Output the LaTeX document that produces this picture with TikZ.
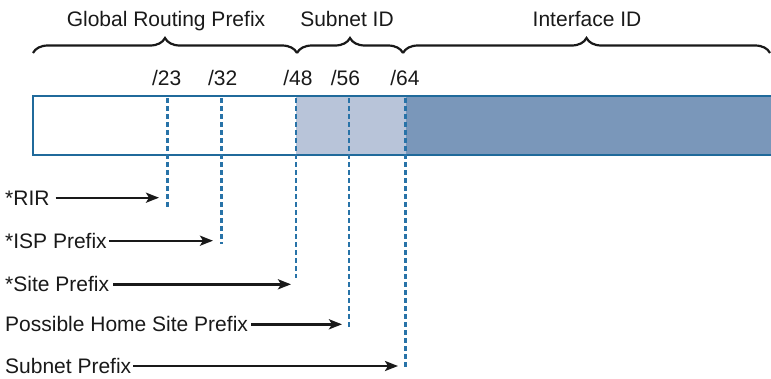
\documentclass[tikz,border=0pt]{standalone}
\usepackage{fontspec}
\setmainfont{Liberation Sans}
\usetikzlibrary{arrows.meta,decorations.pathreplacing}
\definecolor{bordblue}{RGB}{32,106,155}
\definecolor{dotblue}{RGB}{40,115,168}
\definecolor{lightfill}{RGB}{184,196,217}
\definecolor{darkfill}{RGB}{122,151,186}
\definecolor{ink}{RGB}{25,25,25}
\tikzset{
  lbl/.style={inner sep=0pt, text height=15pt, text depth=0pt, anchor=west, font=\fontsize{21}{25}\selectfont, text=ink},
  toplbl/.style={inner sep=0pt, anchor=base, font=\fontsize{21}{25}\selectfont, text=ink},
  arr/.style={draw=ink, line width=2.4pt, -{Stealth[length=13pt,width=10pt,inset=3pt]}},
  dotline/.style={draw=dotblue, line width=2.5pt, dash pattern=on 4.5pt off 3.5pt},
  bracestyle/.style={draw=ink, line width=2.2pt, decorate, decoration={brace, amplitude=15pt}},
}
\begin{document}
\begin{tikzpicture}[x=1pt,y=-1pt]
\useasboundingbox (0,0) rectangle (771,378);
% bar fills
\fill[white] (33,96) rectangle (296,155);
\fill[lightfill] (296,96) rectangle (405.7,155);
\fill[darkfill] (405.7,96) rectangle (772,155);
\draw[bordblue, line width=2.6pt] (772,96) -- (33,96) -- (33,155) -- (772,155);
% dashed markers
\foreach \n/\x/\y in {a/167.7/209, b/221.3/244, c/296/278, d/349/328, e/405.7/367} {
  \coordinate (top\n) at (\x,98);
  \coordinate (bot\n) at (\x,\y);
}
\draw[dotline] (topa) -- (bota);
\draw[dotline] (topb) -- (botb);
\draw[dotline] (topc) -- (botc);
\draw[dotline] (topd) -- (botd);
\draw[dotline] (tope) -- (bote);
% braces
\coordinate (b0) at (33,53);
\coordinate (b1) at (297,53);
\coordinate (b2) at (403,53);
\coordinate (b3) at (770,53);
\draw[bracestyle] (b0) -- (b1);
\draw[bracestyle] (b1) -- (b2);
\draw[bracestyle] (b2) -- (b3);
% top labels
\node[toplbl] (grp) at (166,26.7) {Global Routing Prefix};
\node[toplbl] (sid) at (347,26.7) {Subnet ID};
\node[toplbl] (iid) at (587,26.7) {Interface ID};
% prefix labels
\node[toplbl] (p23) at (166.7,85) {/23};
\node[toplbl] (p32) at (222.7,85) {/32};
\node[toplbl] (p48) at (298,85) {/48};
\node[toplbl] (p56) at (345.5,85) {/56};
\node[toplbl] (p64) at (405,85) {/64};
% left labels
\node[lbl] (rir) at (5,197.7) {*RIR};
\node[lbl] (isp) at (5,240.7) {*ISP Prefix};
\node[lbl] (site) at (5,284.3) {*Site Prefix};
\node[lbl] (home) at (5,324.3) {Possible Home Site Prefix};
\node[lbl] (sub) at (5,366) {Subnet Prefix};
\coordinate (ea) at (159,197.7);
\coordinate (eb) at (213,240.7);
\coordinate (ec) at (291,284.3);
\coordinate (ed) at (342,324.3);
\coordinate (ee) at (398,366);
\draw[arr] ([xshift=6pt]rir.east) -- (ea);
\draw[arr] ([xshift=2pt]isp.east) -- (eb);
\draw[arr] ([xshift=4pt]site.east) -- (ec);
\draw[arr] ([xshift=3pt]home.east) -- (ed);
\draw[arr] ([xshift=2pt]sub.east) -- (ee);
\end{tikzpicture}
\end{document}
